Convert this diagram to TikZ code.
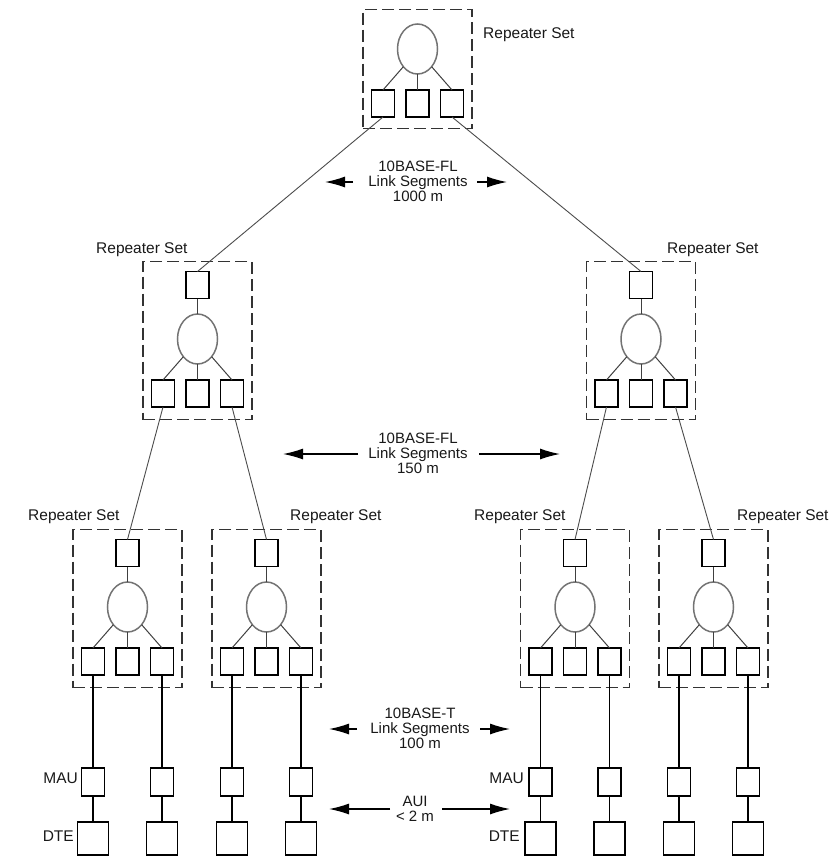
\documentclass[tikz,border=0pt]{standalone}
\usepackage{fontspec}
\setmainfont{Liberation Sans}
\usetikzlibrary{shapes.geometric,arrows.meta}

\tikzset{
  port/.style={draw=black, line width=1.3pt, minimum width=23pt, minimum height=27pt, inner sep=0pt, outer sep=0pt},
  maubox/.style={port, minimum height=28pt},
  dtebox/.style={port, minimum width=31pt, minimum height=33pt},
  hub/.style={ellipse, draw=black!55, line width=1.5pt, minimum width=40pt, minimum height=50pt, inner sep=0pt, outer sep=0pt},
  setbox/.style={draw=black!80, line width=1.3pt, dash pattern=on 12pt off 5pt, minimum width=109pt, inner sep=0pt},
  wire/.style={draw=black!75, line width=1pt},
  link/.style={draw=black!70, line width=0.9pt},
  cable/.style={draw=black, line width=1.3pt},
  setlbl/.style={font=\fontsize{15.5}{15.5}\selectfont, text=black!90, inner sep=0pt},
  seglbl/.style={font=\fontsize{15}{15}\selectfont, text=black!90, inner sep=0pt, align=center},
  span/.style={-{Latex[length=20pt,width=11pt]}, line width=1.3pt, black},
}

% A repeater set with one upstream port above the hub and three ports below it.
% #1 = name prefix, #2 = centre x, #3 = top edge of the dashed enclosure
\newcommand\RepSet[3]{%
  \node[setbox, minimum height=158pt, anchor=north] (#1-box) at (#2,#3) {};
  \node[port] (#1-in) at (#2,#3+24) {};
  \node[hub] (#1-hub) at (#2,#3+78) {};
  \node[port] (#1-p1) at (#2-34.5,#3+132.5) {};
  \node[port] (#1-p2) at (#2,#3+132.5) {};
  \node[port] (#1-p3) at (#2+34.5,#3+132.5) {};
  \draw[wire] (#1-in) -- (#1-hub);
  \draw[wire] (#1-hub.south west) -- (#1-p1.north);
  \draw[wire] (#1-hub) -- (#1-p2);
  \draw[wire] (#1-hub.south east) -- (#1-p3.north);
}

\begin{document}
\begin{tikzpicture}[x=1pt, y=-1pt]
\useasboundingbox (0,0) rectangle (838,857);
\fill[white] (0,0) rectangle (838,857);

% root repeater set
\node[setbox, minimum height=119pt, anchor=north] (top-box) at (417.5,9) {};
\node[hub] (top-hub) at (417.5,49) {};
\node[port] (top-p1) at (383,103.5) {};
\node[port] (top-p2) at (417.5,103.5) {};
\node[port] (top-p3) at (452,103.5) {};
\draw[wire] (top-hub.south west) -- (top-p1.north);
\draw[wire] (top-hub) -- (top-p2);
\draw[wire] (top-hub.south east) -- (top-p3.north);
\node[setlbl, anchor=base west] (top-lbl) at (483,38.5) {Repeater Set};

% second level
\RepSet{ml}{197.5}{261}
\RepSet{mr}{641}{261}
\node[setlbl, anchor=base west] (ml-lbl) at (96,253) {Repeater Set};
\node[setlbl, anchor=base west] (mr-lbl) at (667,253) {Repeater Set};

% third level
\RepSet{b1}{127.5}{529}
\RepSet{b2}{266.5}{529}
\RepSet{b3}{575}{529}
\RepSet{b4}{713.5}{529}
\node[setlbl, anchor=base west] (b1-lbl) at (28,520) {Repeater Set};
\node[setlbl, anchor=base west] (b2-lbl) at (290,520) {Repeater Set};
\node[setlbl, anchor=base west] (b3-lbl) at (474,520) {Repeater Set};
\node[setlbl, anchor=base west] (b4-lbl) at (737,520) {Repeater Set};

% fibre link segments between repeater sets
\draw[link] (top-p1.south) -- (ml-in.north);
\draw[link] (top-p3.south) -- (mr-in.north);
\draw[link] (ml-p1.south) -- (b1-in.north);
\draw[link] (ml-p3.south) -- (b2-in.north);
\draw[link] (mr-p1.south) -- (b3-in.north);
\draw[link] (mr-p3.south) -- (b4-in.north);

% twisted-pair segments down to the MAUs and DTEs
\coordinate (mauline) at (0,782);
\coordinate (dteline) at (0,838.5);
\foreach \r in {b1,b2,b3,b4} {
  \foreach \p in {p1,p3} {
    \node[maubox] (\r-\p-mau) at (\r-\p |- mauline) {};
    \node[dtebox] (\r-\p-dte) at (\r-\p |- dteline) {};
    \draw[cable] (\r-\p) -- (\r-\p-mau);
    \draw[cable] (\r-\p-mau) -- (\r-\p-dte);
  }
}
\node[setlbl, anchor=base east] (mau-l) at (78,783) {MAU};
\node[setlbl, anchor=base east] (mau-r) at (524,783) {MAU};
\node[setlbl, anchor=base east] (dte-l) at (74,841) {DTE};
\node[setlbl, anchor=base east] (dte-r) at (520,841) {DTE};

% segment length annotations
\node[seglbl] (seg1) at (418,181) {10BASE-FL\\Link Segments\\1000 m};
\coordinate (seg1-lt) at (353,182); \coordinate (seg1-lh) at (325,182);
\coordinate (seg1-rt) at (477,182); \coordinate (seg1-rh) at (507,182);
\draw[span] (seg1-lt) -- (seg1-lh);
\draw[span] (seg1-rt) -- (seg1-rh);

\node[seglbl] (seg2) at (418,453) {10BASE-FL\\Link Segments\\150 m};
\coordinate (seg2-lt) at (358,454); \coordinate (seg2-lh) at (283,454);
\coordinate (seg2-rt) at (479,454); \coordinate (seg2-rh) at (560,454);
\draw[span] (seg2-lt) -- (seg2-lh);
\draw[span] (seg2-rt) -- (seg2-rh);

\node[seglbl] (seg3) at (420,728) {10BASE-T\\Link Segments\\100 m};
\coordinate (seg3-lt) at (357,729); \coordinate (seg3-lh) at (329,729);
\coordinate (seg3-rt) at (480,729); \coordinate (seg3-rh) at (510,729);
\draw[span] (seg3-lt) -- (seg3-lh);
\draw[span] (seg3-rt) -- (seg3-rh);

\node[seglbl] (seg4) at (415,809) {AUI\\< 2 m};
\coordinate (seg4-lt) at (390,809); \coordinate (seg4-lh) at (329,809);
\coordinate (seg4-rt) at (442,809); \coordinate (seg4-rh) at (510,809);
\draw[span] (seg4-lt) -- (seg4-lh);
\draw[span] (seg4-rt) -- (seg4-rh);
\end{tikzpicture}
\end{document}
